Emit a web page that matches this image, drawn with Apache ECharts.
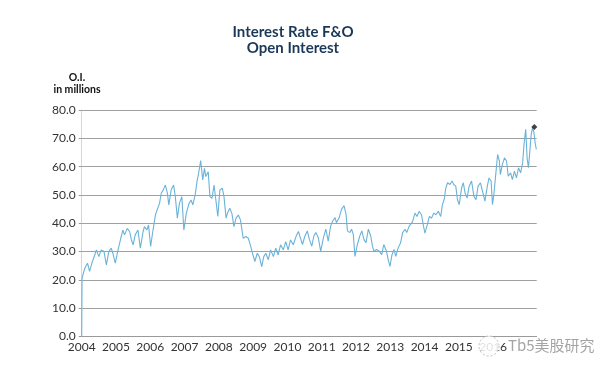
<!DOCTYPE html>
<html>
<head>
<meta charset="utf-8">
<script src="https://cdn.jsdelivr.net/npm/echarts@6/dist/echarts.min.js"></script>
<style>
html,body{margin:0;padding:0;background:#fff;}
#chart{width:612px;height:372px;}
</style>
</head>
<body>
<div id="chart"></div>
<script>
// Chart text
var titleLines = ['Interest Rate F&O', 'Open Interest'];
var unitLines = ['O.I.', 'in millions'];
var watermark = 'Tb5美股研究';

// Axis ticks
var yTicks = [0, 10, 20, 30, 40, 50, 60, 70, 80];
var xYears = [2004, 2005, 2006, 2007, 2008, 2009, 2010, 2011, 2012, 2013, 2014, 2015, 2016];

// Series: time (decimal year) and open interest (millions)
var years = [
  2004.00, 2004.01, 2004.09, 2004.17, 2004.23, 2004.30, 2004.38, 2004.43, 2004.50, 2004.57, 2004.65,
  2004.72, 2004.79, 2004.86, 2004.91, 2004.98, 2005.06, 2005.14, 2005.20, 2005.25, 2005.33,
  2005.40, 2005.45, 2005.50, 2005.56, 2005.64, 2005.71, 2005.79, 2005.83, 2005.90, 2005.95,
  2006.01, 2006.08, 2006.15, 2006.20, 2006.27, 2006.32, 2006.38, 2006.44, 2006.50, 2006.54,
  2006.61, 2006.68, 2006.73, 2006.79, 2006.85, 2006.92, 2006.98, 2007.05, 2007.13, 2007.19,
  2007.24, 2007.31, 2007.37, 2007.40, 2007.47, 2007.53, 2007.58, 2007.62, 2007.69, 2007.74,
  2007.80, 2007.86, 2007.91, 2007.97, 2008.03, 2008.10, 2008.15, 2008.21, 2008.25, 2008.32,
  2008.38, 2008.44, 2008.50, 2008.57, 2008.63, 2008.71, 2008.79, 2008.86, 2008.93, 2008.98,
  2009.05, 2009.12, 2009.18, 2009.25, 2009.31, 2009.37, 2009.44, 2009.51, 2009.59, 2009.66,
  2009.73, 2009.80, 2009.88, 2009.95, 2010.02, 2010.09, 2010.17, 2010.25, 2010.32, 2010.38,
  2010.44, 2010.51, 2010.58, 2010.64, 2010.71, 2010.77, 2010.83, 2010.90, 2010.97, 2011.05,
  2011.12, 2011.19, 2011.26, 2011.32, 2011.39, 2011.43, 2011.51, 2011.58, 2011.65, 2011.71,
  2011.75, 2011.82, 2011.87, 2011.92, 2011.97, 2012.04, 2012.11, 2012.17, 2012.23, 2012.29,
  2012.36, 2012.43, 2012.48, 2012.52, 2012.60, 2012.68, 2012.75, 2012.81, 2012.89, 2012.94,
  2012.99, 2013.05, 2013.11, 2013.16, 2013.23, 2013.30, 2013.36, 2013.43, 2013.48, 2013.55,
  2013.65, 2013.72, 2013.78, 2013.84, 2013.91, 2013.96, 2014.01, 2014.08, 2014.14, 2014.20,
  2014.27, 2014.33, 2014.40, 2014.47, 2014.52, 2014.57, 2014.62, 2014.67, 2014.74, 2014.80,
  2014.85, 2014.91, 2014.96, 2015.01, 2015.08, 2015.13, 2015.18, 2015.24, 2015.30, 2015.37,
  2015.44, 2015.50, 2015.56, 2015.63, 2015.69, 2015.76, 2015.83, 2015.88, 2015.94, 2015.98,
  2016.02, 2016.08, 2016.13, 2016.18, 2016.21, 2016.27, 2016.33, 2016.39, 2016.44, 2016.51,
  2016.56, 2016.62, 2016.68, 2016.74, 2016.80, 2016.86, 2016.90, 2016.95, 2016.99, 2017.03,
  2017.07, 2017.11, 2017.15, 2017.19, 2017.23, 2017.26
];
var oi = [
  0.0, 20.6, 24.1, 25.9, 23.0, 26.0, 28.8, 30.6, 28.2, 30.6, 30.0,
  25.3, 30.0, 31.2, 29.4, 25.9, 30.6, 34.7, 37.6, 35.9, 38.2,
  37.0, 34.1, 32.4, 35.9, 37.6, 31.2, 37.0, 38.8, 37.6, 39.4,
  31.8, 37.6, 42.9, 44.7, 47.0, 50.6, 51.8, 53.5, 50.6, 46.5,
  51.8, 53.5, 49.4, 41.8, 47.0, 49.4, 37.6, 43.5, 47.0, 48.2,
  46.5, 50.0, 55.3, 57.0, 62.1, 55.3, 59.4, 56.5, 58.2, 49.4,
  48.8, 53.5, 54.1, 42.4, 51.8, 52.4, 49.4, 41.8, 43.5, 45.3,
  43.5, 38.8, 41.8, 42.9, 41.2, 34.7, 35.3, 34.7, 31.8, 29.4,
  26.5, 29.4, 28.2, 24.7, 28.2, 29.4, 27.1, 30.6, 28.2, 31.2,
  28.8, 32.4, 30.6, 33.5, 30.6, 34.1, 32.4, 35.3, 37.1, 34.7,
  32.5, 35.5, 37.3, 34.3, 31.9, 35.5, 36.7, 34.9, 30.1, 34.9,
  37.9, 33.7, 39.0, 40.8, 42.0, 40.2, 42.0, 45.0, 46.2, 43.2,
  37.3, 36.7, 37.9, 36.1, 28.3, 32.5, 35.5, 37.3, 34.3, 33.1,
  37.9, 35.5, 31.9, 30.1, 30.7, 30.1, 28.9, 32.5, 30.1, 27.1,
  24.8, 28.9, 30.7, 28.3, 31.3, 33.1, 36.7, 37.9, 36.7, 39.0,
  40.6, 43.6, 42.4, 44.2, 43.0, 39.5, 36.5, 39.5, 42.4, 41.8,
  43.6, 43.0, 44.2, 42.4, 46.6, 48.3, 52.5, 54.3, 53.7, 54.9,
  53.7, 53.1, 48.3, 46.6, 52.5, 54.3, 50.7, 48.9, 53.1, 54.9,
  49.5, 48.3, 53.1, 54.3, 51.3, 47.8, 53.1, 56.0, 54.9, 46.6,
  50.1, 57.8, 64.3, 62.0, 57.2, 60.8, 63.1, 62.0, 56.6, 57.8,
  55.4, 58.4, 56.0, 59.6, 57.8, 61.4, 67.9, 73.2, 63.1, 59.6,
  65.5, 71.4, 73.8, 72.0, 67.9, 66.1
];
// Latest-value marker
var markerYear = [2017.20];
var markerValue = [74.0];

var xMin = 2004, xMax = 2017.27;

var lineData = years.map(function (y, i) { return [y, oi[i]]; });
var markerData = markerYear.map(function (y, i) { return [y, markerValue[i]]; });

var chart = echarts.init(document.getElementById('chart'), null, {renderer: 'canvas'});
chart.setOption({
  animation: false,
  backgroundColor: '#ffffff',
  grid: {left: 81.7, right: 612 - 536.7, top: 110, bottom: 372 - 336.5, containLabel: false},
  xAxis: {
    type: 'value',
    min: xMin,
    max: xMax,
    interval: 1,
    axisLine: {show: true, lineStyle: {color: '#9a9a9a', width: 1}},
    axisTick: {show: false},
    splitLine: {show: false},
    axisLabel: {
      show: true,
      showMaxLabel: false,
      margin: 5,
      color: '#333333',
      fontFamily: 'Lato',
      fontSize: 12,
      formatter: function (v) {
        return xYears.indexOf(Math.round(v)) >= 0 ? String(Math.round(v)) : '';
      }
    }
  },
  yAxis: {
    type: 'value',
    min: yTicks[0],
    max: yTicks[yTicks.length - 1],
    interval: 10,
    axisLine: {show: true, lineStyle: {color: '#d5d5d5', width: 1}},
    axisTick: {show: true, length: 3, lineStyle: {color: '#9a9a9a'}},
    splitLine: {show: true, lineStyle: {color: '#a0a0a0', width: 1}},
    axisLabel: {
      margin: 6,
      color: '#333333',
      fontFamily: 'Lato',
      fontSize: 12,
      formatter: function (v) { return v.toFixed(1); }
    }
  },
  series: [
    {
      type: 'line',
      data: lineData,
      showSymbol: false,
      symbol: 'none',
      lineStyle: {color: '#6ab3d8', width: 1.1},
      z: 3
    },
    {
      type: 'scatter',
      data: markerData,
      symbol: 'diamond',
      symbolSize: 6,
      itemStyle: {color: '#111111'},
      z: 4
    }
  ],
  graphic: [
    {
      type: 'text', x: 293, y: 32,
      style: {text: titleLines[0], textAlign: 'center', textVerticalAlign: 'middle',
        font: 'bold 15px Lato', fill: '#1b3858'}
    },
    {
      type: 'text', x: 293, y: 48,
      style: {text: titleLines[1], textAlign: 'center', textVerticalAlign: 'middle',
        font: 'bold 15px Lato', fill: '#1b3858'}
    },
    {
      type: 'text', x: 77, y: 78,
      style: {text: unitLines[0], textAlign: 'center', textVerticalAlign: 'middle',
        font: 'bold 10.5px Lato', fill: '#111111'}
    },
    {
      type: 'text', x: 77, y: 90,
      style: {text: unitLines[1], textAlign: 'center', textVerticalAlign: 'middle',
        font: 'bold 10.5px Lato', fill: '#111111'}
    },
    {
      type: 'circle', shape: {cx: 489, cy: 346, r: 10},
      style: {fill: 'rgba(255,255,255,0.85)', stroke: '#bdbdbd', lineWidth: 1, lineDash: [2, 2]},
      z: 100
    },
    {
      type: 'text', x: 508, y: 345,
      style: {text: watermark, textAlign: 'left', textVerticalAlign: 'middle',
        font: '15px "Noto Sans CJK SC"', fill: '#9a9a9a', opacity: 0.9},
      z: 100
    }
  ]
});
</script>
</body>
</html>
